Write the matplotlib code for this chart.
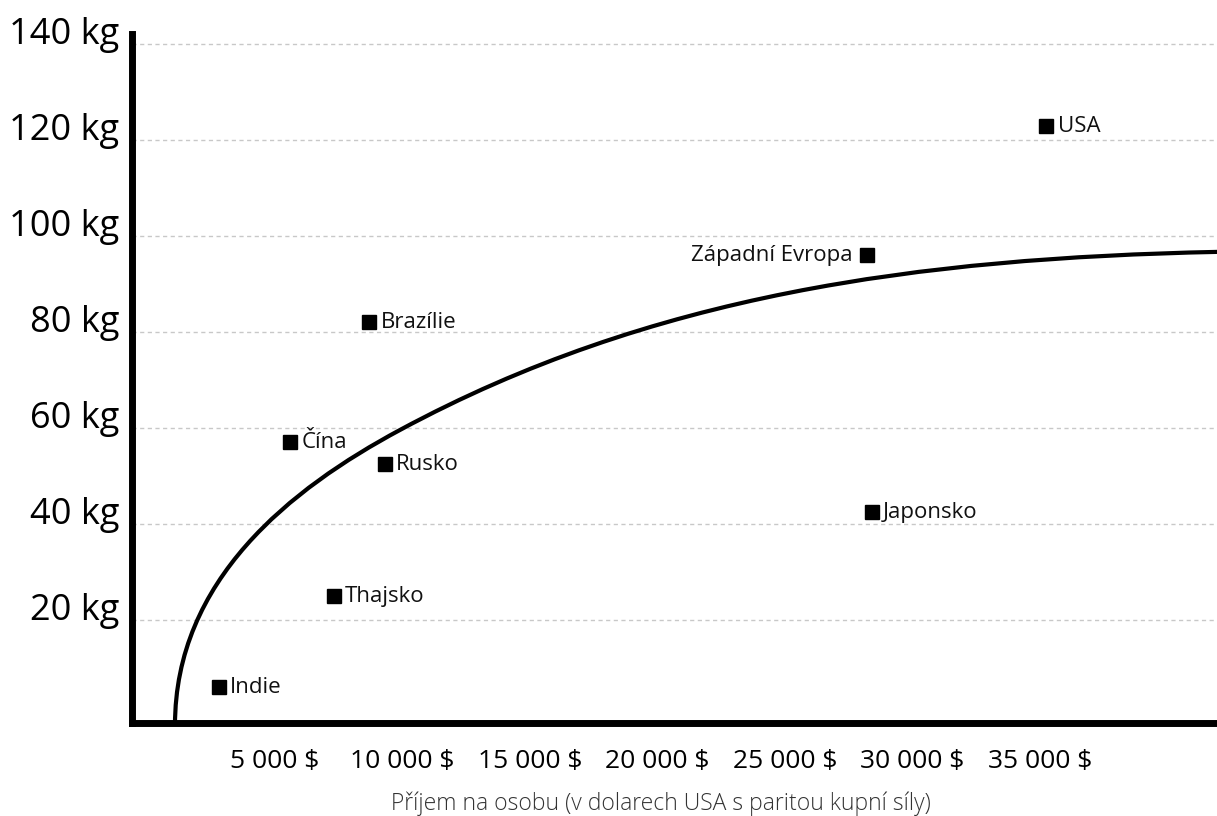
import matplotlib.pyplot as plt
from matplotlib.path import Path
from matplotlib.patches import PathPatch

plt.rcParams['font.family'] = ['Open Sans', 'DejaVu Sans']

# countries: income per person (USD, PPP) and meat consumption (kg)
countries = ['Indie', 'Thajsko', 'Čína', 'Rusko', 'Brazílie', 'Japonsko', 'Západní Evropa', 'USA']
income = [2800, 7300, 5600, 9300, 8700, 28400, 28200, 35250]
meat_kg = [6, 25, 57, 52.5, 82, 42.5, 96, 123]
label_left = ['Západní Evropa']

# trend curve as two cubic Bezier segments (anchor, control, control, anchor, ...)
curve_x = [1078, 1078, 5588, 9902, 19706, 30176, 41941]
curve_y = [-1.9, 28.3, 47.3, 59.6, 87.7, 95.4, 96.7]

y_ticks = [20, 40, 60, 80, 100, 120, 140]
y_labels = ['20 kg', '40 kg', '60 kg', '80 kg', '100 kg', '120 kg', '140 kg']
x_ticks = [5000, 10000, 15000, 20000, 25000, 30000, 35000]
x_labels = ['5 000 $', '10 000 $', '15 000 $', '20 000 $', '25 000 $', '30 000 $', '35 000 $']
x_title = 'Příjem na osobu (v dolarech USA s paritou kupní síly)'

W, H = 1217, 816
fig = plt.figure(figsize=(W / 100, H / 100), dpi=100)
ax = fig.add_axes([132 / W, (H - 723) / H, (W - 132) / W, (723 - 34) / H])
ax.set_xlim(-608, 41940)
ax.set_ylim(-1.46, 142.1)

for t in y_ticks:
    ax.axhline(t, color='#c8c8c8', linewidth=1, dashes=(3, 2.5), zorder=1)

codes = [Path.MOVETO] + [Path.CURVE4] * (len(curve_x) - 1)
curve = Path(list(zip(curve_x, curve_y)), codes)
ax.add_patch(PathPatch(curve, facecolor='none', edgecolor='black', linewidth=3, zorder=2))

ax.plot(income, meat_kg, linestyle='none', marker='s', markersize=9.4,
        color='black', zorder=3)

for name, x, y in zip(countries, income, meat_kg):
    if name in label_left:
        ax.annotate(name, (x, y), xytext=(-10, -4.3), textcoords='offset points',
                    ha='right', va='baseline', fontsize=16, color='#111111')
    else:
        ax.annotate(name, (x, y), xytext=(8, -4.3), textcoords='offset points',
                    ha='left', va='baseline', fontsize=16, color='#111111')

for side in ['top', 'right']:
    ax.spines[side].set_visible(False)
for side in ['left', 'bottom']:
    ax.spines[side].set_linewidth(5)
    ax.spines[side].set_capstyle('projecting')
    ax.spines[side].set_zorder(4)

ax.set_yticks(y_ticks, y_labels)
ax.tick_params(axis='y', length=0, pad=9, labelsize=26)
for lbl in ax.get_yticklabels():
    lbl.set_verticalalignment('baseline')

ax.set_xticks(x_ticks, x_labels)
ax.tick_params(axis='x', length=0, pad=19, labelsize=19)

fig.text(661 / W, 6 / H, x_title, ha='center', va='baseline', fontsize=16.5,
         color='#333333', fontweight='light')

fig.savefig('out.png', dpi=100)
